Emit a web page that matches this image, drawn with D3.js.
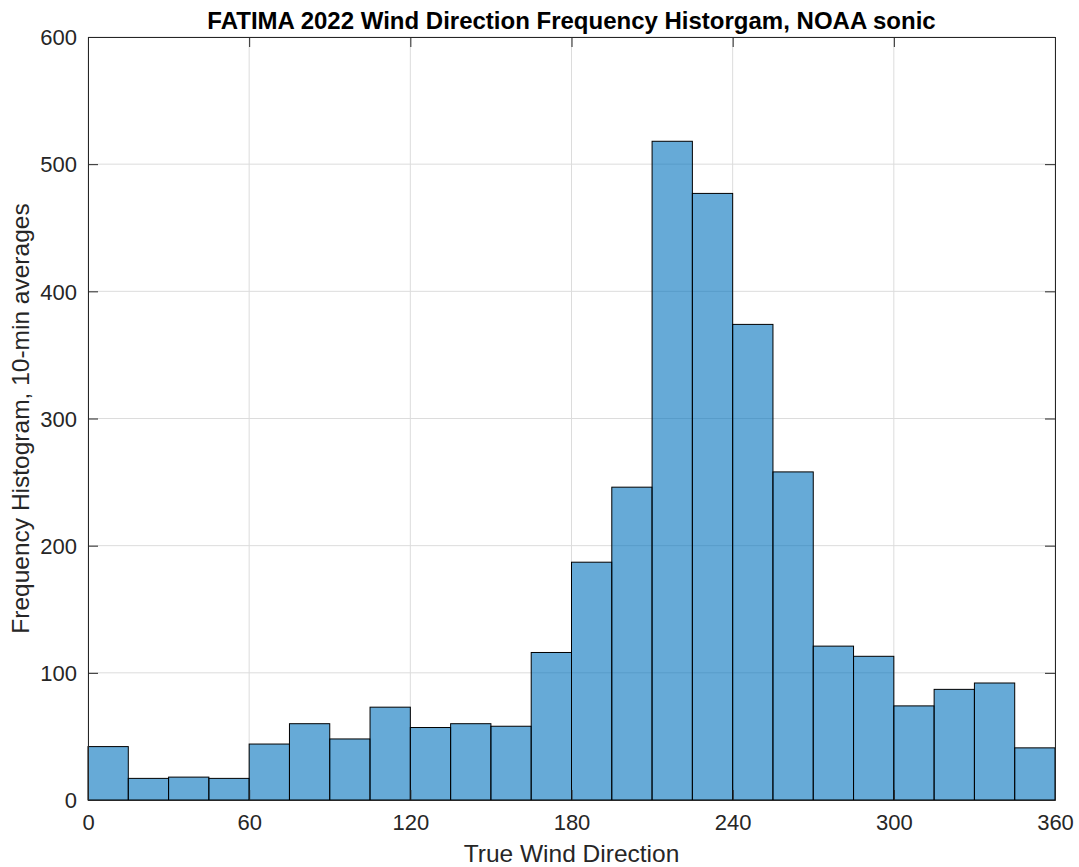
<!DOCTYPE html>
<html>
<head>
<meta charset="utf-8">
<script src="https://cdn.jsdelivr.net/npm/d3@7"></script>
<style>
  body { margin: 0; background: #fff; }
  text { font-family: "Liberation Sans", Arial, Helvetica, sans-serif; }
</style>
</head>
<body>
<div id="chart"></div>
<script>
// bin edges every 15 degrees, counts
var binStarts = [0, 15, 30, 45, 60, 75, 90, 105, 120, 135, 150, 165,
                 180, 195, 210, 225, 240, 255, 270, 285, 300, 315, 330, 345];
var binWidth = 15;
var counts = [42, 17, 18, 17, 44, 60, 48, 73, 57, 60, 58, 116,
              187, 246, 518, 477, 374, 258, 121, 113, 74, 87, 92, 41];
var xTicks = [0, 60, 120, 180, 240, 300, 360];
var yTicks = [0, 100, 200, 300, 400, 500, 600];

var width = 1079, height = 867;
var margin = {top: 37, right: 24, bottom: 67, left: 88};
var plotW = width - margin.left - margin.right;
var plotH = height - margin.top - margin.bottom;

var svg = d3.select('#chart').append('svg')
    .attr('width', width)
    .attr('height', height);

var g = svg.append('g')
    .attr('transform', 'translate(' + margin.left + ',' + margin.top + ')');

var x = d3.scaleLinear().domain([0, 360]).range([0, plotW]);
var y = d3.scaleLinear().domain([0, 600]).range([plotH, 0]);

// grid
g.append('g').selectAll('line.vx')
    .data(xTicks)
    .enter().append('line')
    .attr('x1', d => x(d)).attr('x2', d => x(d))
    .attr('y1', 0).attr('y2', plotH)
    .attr('stroke', '#dcdcdc').attr('stroke-width', 1);

g.append('g').selectAll('line.hy')
    .data(yTicks)
    .enter().append('line')
    .attr('x1', 0).attr('x2', plotW)
    .attr('y1', d => y(d)).attr('y2', d => y(d))
    .attr('stroke', '#dcdcdc').attr('stroke-width', 1);

// bars
g.append('g').selectAll('rect')
    .data(counts)
    .enter().append('rect')
    .attr('x', (d, i) => x(binStarts[i]))
    .attr('width', (d, i) => x(binStarts[i] + binWidth) - x(binStarts[i]))
    .attr('y', d => y(d))
    .attr('height', d => plotH - y(d))
    .attr('fill', '#0072bd')
    .attr('fill-opacity', 0.6)
    .attr('stroke', '#000')
    .attr('stroke-width', 1);

// axes (MATLAB style box with inward ticks)
var tickLen = 10;
var axisColor = '#262626';

var xAxis = d3.axisBottom(x).tickValues(xTicks).tickSizeInner(-tickLen).tickSizeOuter(0);
var yAxis = d3.axisLeft(y).tickValues(yTicks).tickSizeInner(-tickLen).tickSizeOuter(0);

var gx = g.append('g').attr('transform', 'translate(0,' + plotH + ')').call(xAxis);
var gy = g.append('g').call(yAxis);
var gxTop = g.append('g').call(d3.axisTop(x).tickValues(xTicks).tickSizeInner(-tickLen).tickSizeOuter(0).tickFormat(''));
var gyRight = g.append('g').attr('transform', 'translate(' + plotW + ',0)')
    .call(d3.axisRight(y).tickValues(yTicks).tickSizeInner(-tickLen).tickSizeOuter(0).tickFormat(''));

[gx, gy, gxTop, gyRight].forEach(function (a) {
    a.select('.domain').attr('stroke', axisColor).attr('stroke-width', 1);
    a.selectAll('.tick line').attr('stroke', axisColor).attr('stroke-width', 1);
    a.selectAll('.tick text')
        .attr('fill', axisColor)
        .style('font-size', '22px')
        .style('font-family', '"Liberation Sans", Arial, Helvetica, sans-serif');
});
gx.selectAll('.tick text').attr('dy', null).attr('y', 30);
gy.selectAll('.tick text').attr('x', -11).attr('dy', '0.35em');

// labels
svg.append('text')
    .attr('x', margin.left + plotW / 2)
    .attr('y', 29)
    .attr('text-anchor', 'middle')
    .style('font-size', '24px')
    .style('font-weight', 'bold')
    .attr('fill', '#000')
    .text('FATIMA 2022 Wind Direction Frequency Historgam, NOAA sonic');

svg.append('text')
    .attr('x', margin.left + plotW / 2)
    .attr('y', 862)
    .attr('text-anchor', 'middle')
    .style('font-size', '24.5px')
    .attr('fill', axisColor)
    .text('True Wind Direction');

svg.append('text')
    .attr('transform', 'translate(29,' + (margin.top + plotH / 2) + ') rotate(-90)')
    .attr('text-anchor', 'middle')
    .style('font-size', '24.5px')
    .attr('fill', axisColor)
    .text('Frequency Histogram, 10-min averages');
</script>
</body>
</html>
